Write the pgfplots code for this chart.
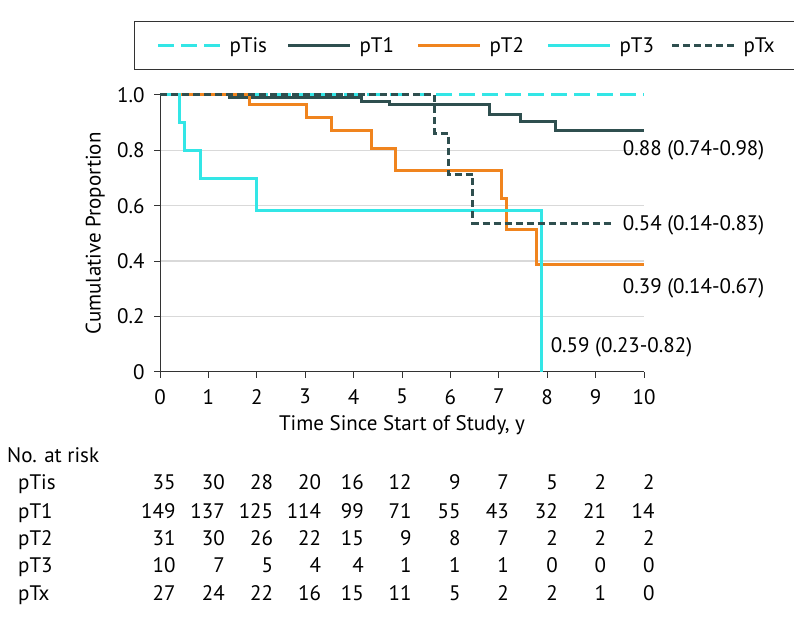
\documentclass[border=0pt]{standalone}
\usepackage{fontspec}
\setmainfont{PT Sans}
\usepackage{pgfplots}
\pgfplotsset{compat=1.18}
\definecolor{cyanK}{HTML}{33E6E6}
\definecolor{slateK}{HTML}{2F4F4F}
\definecolor{orangeK}{HTML}{F0841E}
\definecolor{gridK}{HTML}{D9D9D9}
\definecolor{axK}{HTML}{333333}
\newcommand{\fs}{\fontsize{21}{24}\selectfont}
\begin{document}
\begin{tikzpicture}[x=1pt,y=1pt]
\path[use as bounding box] (0,0) rectangle (794,629);
\begin{axis}[
  at={(160pt,257.3pt)}, anchor=south west,
  scale only axis, width=484pt, height=276.7pt,
  xmin=0, xmax=10, ymin=0, ymax=1,
  axis lines=left, axis line style={-, draw=axK, line width=1pt},
  clip=false,
  xtick={0,1,...,10},
  ytick={0,0.2,0.4,0.6,0.8}, yticklabels={0,0.2,0.4,0.6,0.8},
  extra y ticks={1}, extra y tick labels={1.0}, extra y tick style={grid=none},
  ymajorgrids, grid style={gridK, line width=1.2pt},
  tick align=outside, major tick length=6pt, tick style={axK, line width=1pt},
  tick label style={font=\fs},
  xticklabel style={yshift=-8pt},
  yticklabel style={xshift=-6pt},
  /pgf/number format/assume math mode=true,
  xlabel={Time Since Start of Study, y},
  ylabel={Cumulative Proportion},
  label style={font=\fs},
  xlabel style={at={(axis description cs:0.5,-0.193)}, anchor=center},
  ylabel style={at={(axis description cs:-0.134,0.5)}, anchor=center},
  legend columns=5,
  legend style={font=\fs, at={(axis description cs:-0.0537,1.179)}, anchor=west, draw=axK, line width=1pt,
    inner xsep=22pt, inner ysep=13pt,
    nodes={inner xsep=0pt, inner ysep=3pt},
    /tikz/every odd column/.append style={column sep=8pt},
    /tikz/every even column/.append style={column sep=17pt}},
  legend image code/.code={\draw[#1] (0pt,0pt) -- (62pt,0pt);},
]
\addplot[cyanK, line width=3pt, dash pattern=on 16pt off 7pt, const plot] coordinates {(0,1) (10,1)};
\addlegendentry{\makebox[40pt][l]{pTis}}
\addplot[slateK, line width=3pt, const plot] coordinates {
(0,1) (1.43,0.991) (4.17,0.978) (4.75,0.967) (6.81,0.930) (7.45,0.904) (8.18,0.870) (10,0.870)};
\addlegendentry{\makebox[40pt][l]{pT1}}
\addplot[orangeK, line width=3pt, const plot] coordinates {
(0,1) (1.84,0.964) (3.03,0.919) (3.55,0.870) (4.37,0.807) (4.86,0.726) (7.06,0.627) (7.15,0.515) (7.78,0.389) (10,0.389)};
\addlegendentry{\makebox[40pt][l]{pT2}}
\addplot[cyanK, line width=3pt, const plot] coordinates {
(0,1) (0.41,0.900) (0.50,0.801) (0.83,0.699) (2.0,0.584) (7.89,0)};
\addlegendentry{\makebox[34pt][l]{pT3}}
\addplot[slateK, line width=3pt, dash pattern=on 7pt off 4pt, const plot] coordinates {
(0,1) (5.68,0.862) (5.96,0.713) (6.46,0.536) (9.37,0.536)};
\addlegendentry{pTx}
\node[anchor=base west, inner sep=0pt, font=\fs, yshift=-7pt] at (axis cs:9.56,0.805) {0.88 (0.74-0.98)};
\node[anchor=base west, inner sep=0pt, font=\fs, yshift=-7pt] at (axis cs:9.56,0.536) {0.54 (0.14-0.83)};
\node[anchor=base west, inner sep=0pt, font=\fs, yshift=-7pt] at (axis cs:9.56,0.307) {0.39 (0.14-0.67)};
\node[anchor=base west, inner sep=0pt, font=\fs, yshift=-7pt] at (axis cs:8.07,0.094) {0.59 (0.23-0.82)};
\end{axis}
\node[anchor=base west, inner sep=0pt, font=\fs] at (7,166) {No. at risk};
\foreach \lab/\yy in {pTis/139.3, pT1/111, pT2/84, pT3/56.3, pTx/28.7}
  \node[anchor=base west, inner sep=0pt, font=\fs] at (18,\yy) {\lab};
\foreach \n/\xx in {35/175.7,30/225,28/273.3,20/321.3,16/364,12/411.7,9/460.7,7/509,5/558,2/606.3,2/654.7}
  \node[anchor=base east, inner sep=0pt, font=\fs] at (\xx,139.3) {\n};
\foreach \n/\xx in {149/175.7,137/225,125/273.3,114/321.3,99/364,71/411.7,55/460.7,43/509,32/558,21/606.3,14/654.7}
  \node[anchor=base east, inner sep=0pt, font=\fs] at (\xx,111) {\n};
\foreach \n/\xx in {31/175.7,30/225,26/273.3,22/321.3,15/364,9/411.7,8/460.7,7/509,2/558,2/606.3,2/654.7}
  \node[anchor=base east, inner sep=0pt, font=\fs] at (\xx,84) {\n};
\foreach \n/\xx in {10/175.7,7/225,5/273.3,4/321.3,4/364,1/411.7,1/460.7,1/509,0/558,0/606.3,0/654.7}
  \node[anchor=base east, inner sep=0pt, font=\fs] at (\xx,56.3) {\n};
\foreach \n/\xx in {27/175.7,24/225,22/273.3,16/321.3,15/364,11/411.7,5/460.7,2/509,2/558,1/606.3,0/654.7}
  \node[anchor=base east, inner sep=0pt, font=\fs] at (\xx,28.7) {\n};
\end{tikzpicture}
\end{document}
